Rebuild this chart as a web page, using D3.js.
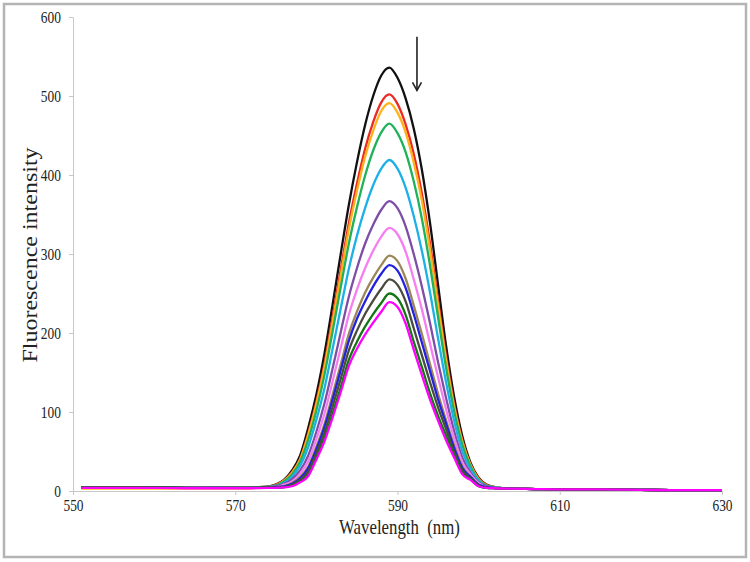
<!DOCTYPE html>
<html>
<head>
<meta charset="utf-8">
<script src="https://cdn.jsdelivr.net/npm/d3@7"></script>
<style>
    body { margin: 0; background: #fff; }
    text { font-family: "Liberation Serif", "Times New Roman", serif; fill: #222; white-space: pre; }
</style>
</head>
<body>
<svg id="chart" width="750" height="562"></svg>
<script>
// wavelength grid (nm) shared by every spectrum
const wavelengths = [551, 555, 560, 565, 570, 572, 574,
    575, 576, 577, 578, 579, 580, 581, 582, 583, 584, 585, 586, 587, 588, 589,
    590, 591, 592, 593, 594, 595, 596, 597, 598, 599, 600, 601, 602,
    604, 607, 610, 615, 620, 625, 630];

// fluorescence intensity of each spectrum
const black     = [5, 5, 5, 4.5, 4, 4.5, 5.5, 8, 14, 26, 45, 80, 122, 174, 236, 300, 362, 416, 463, 500, 526, 536, 523, 497, 459, 407, 340, 261, 183, 118, 69, 36, 17, 8, 5, 3, 2.5, 2, 2, 1.5, 1, 1];
const red       = [5, 5, 5, 4.5, 4, 4.5, 5.5, 8, 13, 24, 41, 73, 113, 161, 220, 280, 339, 389, 433, 467, 492, 502, 490, 464, 427, 377, 314, 241, 170, 109, 64, 34, 16, 8, 5, 3, 2.5, 2, 2, 1.5, 1, 1];
const orange    = [3, 3, 3, 3, 3, 3.5, 4.5, 7, 13, 23, 40, 71, 110, 157, 214, 273, 331, 380, 423, 456, 481, 491, 479, 454, 416, 368, 306, 235, 165, 106, 62, 33, 15, 7, 5, 3, 2.5, 2, 2, 1.5, 1, 1];
const green     = [5, 5, 5, 4.5, 4, 4.5, 5.5, 7, 12, 21, 37, 65, 102, 147, 202, 258, 313, 359, 399, 431, 454, 465, 453, 429, 392, 345, 286, 220, 155, 100, 58, 31, 14, 7, 5, 3, 2.5, 2, 2, 1.5, 1, 1];
const cyan      = [5, 5, 4.5, 4.5, 4, 4, 5, 6, 10, 18, 32, 56, 90, 130, 180, 231, 281, 323, 358, 387, 408, 419, 408, 384, 348, 304, 252, 193, 137, 88, 50, 27, 13, 6, 4.5, 3, 2.5, 2, 2, 1.5, 1, 1];
const purple    = [5, 5, 4.5, 4.5, 4, 4, 5, 6, 9, 15, 26, 45, 75, 111, 155, 201, 246, 282, 313, 337, 356, 367, 358, 335, 300, 259, 213, 163, 117, 75, 42, 23, 11, 6, 4, 3, 2.5, 2, 2, 1.5, 1, 1];
const violet    = [5, 5, 4.5, 4.5, 4, 4, 5, 5, 8, 12, 22, 38, 66, 98, 139, 181, 223, 255, 282, 304, 322, 333, 325, 303, 268, 230, 187, 144, 103, 66, 36, 21, 10, 5, 4, 3, 2.5, 2, 2, 1.5, 1, 1];
const tan       = [4.5, 4.5, 4.5, 4, 4, 4, 4.5, 5, 6, 10, 18, 31, 56, 85, 122, 160, 199, 227, 251, 270, 286, 298, 291, 269, 235, 199, 161, 123, 89, 57, 31, 18, 8, 5, 4, 3, 2.5, 2, 2, 1.5, 1, 1];
const blue      = [4.5, 4.5, 4.5, 4, 4, 4, 4.5, 5, 6, 9, 16, 29, 53, 81, 116, 153, 190, 218, 240, 259, 275, 286, 279, 257, 224, 188, 152, 116, 85, 54, 29, 18, 8, 5, 4, 3, 2.5, 2, 2, 1.5, 1, 1];
const darkGray  = [4.5, 4.5, 4.5, 4, 4, 4, 4.5, 4, 5, 8, 14, 25, 48, 74, 107, 142, 178, 203, 224, 241, 256, 268, 261, 240, 206, 172, 138, 106, 78, 49, 26, 16, 7, 4, 3.5, 3, 2.5, 2, 2, 1.5, 1, 1];
const darkGreen = [4.5, 4.5, 4.5, 4, 4, 4, 4.5, 4, 5, 7, 12, 21, 43, 67, 98, 131, 166, 189, 208, 224, 238, 250, 244, 223, 189, 157, 124, 95, 70, 45, 23, 15, 6, 4, 3.5, 3, 2.5, 2, 2, 1.5, 1, 1];
const magenta   = [4, 4, 4, 3.5, 3.5, 3.5, 4, 4, 4.5, 6, 11, 19, 40, 63, 93, 125, 158, 180, 198, 213, 227, 239, 233, 212, 179, 147, 116, 89, 64, 42, 21, 14, 6, 4, 3.5, 3, 2.5, 2, 2, 1.5, 1, 1];

const seriesList = [black, red, orange, green, cyan, purple, violet, tan, blue, darkGray, darkGreen, magenta];
const seriesColors = ['#111111', '#ec2b24', '#ffb21a', '#1fb25a', '#1cb0e8', '#7d4ea6', '#f57ef0',
    '#9b8658', '#2222e0', '#4a4a3e', '#147514', '#ff00ff'];

const xTicks = [550, 570, 590, 610, 630];
const yTicks = [0, 100, 200, 300, 400, 500, 600];

// arrow showing the decrease of intensity (wavelength, top value, bottom value)
const arrowAt = {wl: 592.4, from: 575, to: 507};

// the source image is squeezed sideways, so the text is too
const squeeze = 0.84;

class SpectraChart {
    constructor(){
        this.svg = d3.select('#chart');
        this.left = 73; this.right = 722;
        this.top = 17; this.bottom = 491;

        this.x = d3.scaleLinear().domain([550, 630]).range([this.left, this.right]);
        this.y = d3.scaleLinear().domain([0, 600]).range([this.bottom, this.top]);
    }

    drawFrame(){
        this.svg.append('rect')
            .attr('x', 4).attr('y', 4)
            .attr('width', 742).attr('height', 553)
            .attr('fill', 'none')
            .attr('stroke', '#b4b4b4')
            .attr('stroke-width', 2.5);
    }

    drawAxes(){
        let xAxis = d3.axisBottom(this.x).tickValues(xTicks).tickSize(4).tickSizeOuter(0).tickPadding(5);
        let yAxis = d3.axisLeft(this.y).tickValues(yTicks).tickSize(4).tickSizeOuter(0).tickPadding(8);

        let gx = this.svg.append('g')
            .attr('transform', `translate(0,${this.bottom})`)
            .call(xAxis);
        let gy = this.svg.append('g')
            .attr('transform', `translate(${this.left},0)`)
            .call(yAxis);

        for (let g of [gx, gy]) {
            g.attr('font-family', null);
            g.select('.domain').attr('stroke', '#c8c8c8');
            g.selectAll('.tick line').attr('stroke', '#c8c8c8');
            g.selectAll('.tick text')
                .style('font-family', '"Liberation Serif", serif')
                .style('font-size', '16px')
                .attr('fill', '#333');
        }
        // squeeze tick labels around their own anchor
        gx.selectAll('.tick text').attr('transform', `scale(${squeeze},1)`)
            .attr('x', 0);
        gy.selectAll('.tick text').each(function(){
            let t = d3.select(this);
            let tx = +t.attr('x');
            t.attr('transform', `translate(${tx},0) scale(${squeeze},1)`).attr('x', 0);
        });

        this.svg.append('text')
            .attr('transform', `translate(${(this.left + this.right) / 2 + 2},534) scale(${squeeze},1)`)
            .attr('text-anchor', 'middle')
            .style('font-size', '20px')
            .text('Wavelength  (nm)');

        this.svg.append('text')
            .attr('transform', `translate(37,255) scale(${squeeze},1) rotate(-90)`)
            .attr('text-anchor', 'middle')
            .style('font-size', '24px')
            .text('Fluorescence intensity');
    }

    drawSpectra(){
        let line = d3.line()
            .x((d, i) => this.x(wavelengths[i]))
            .y(d => this.y(d))
            .curve(d3.curveMonotoneX);

        this.svg.append('g')
            .attr('id', 'spectraG')
            .selectAll('path')
            .data(seriesList)
            .join('path')
            .attr('d', line)
            .attr('fill', 'none')
            .attr('stroke', (d, i) => seriesColors[i])
            .attr('stroke-width', 2.3)
            .attr('stroke-linejoin', 'round');
    }

    addArrow(){
        let ax = this.x(arrowAt.wl);
        let y0 = this.y(arrowAt.from), y1 = this.y(arrowAt.to);
        let g = this.svg.append('g').attr('stroke', '#222').attr('stroke-width', 1.6).attr('fill', 'none');
        g.append('line').attr('x1', ax).attr('x2', ax).attr('y1', y0).attr('y2', y1);
        g.append('path').attr('d', `M${ax - 4.5},${y1 - 8} L${ax},${y1} L${ax + 4.5},${y1 - 8}`);
    }
}

let chart = new SpectraChart();
chart.drawFrame();
chart.drawAxes();
chart.drawSpectra();
chart.addArrow();
</script>
</body>
</html>
